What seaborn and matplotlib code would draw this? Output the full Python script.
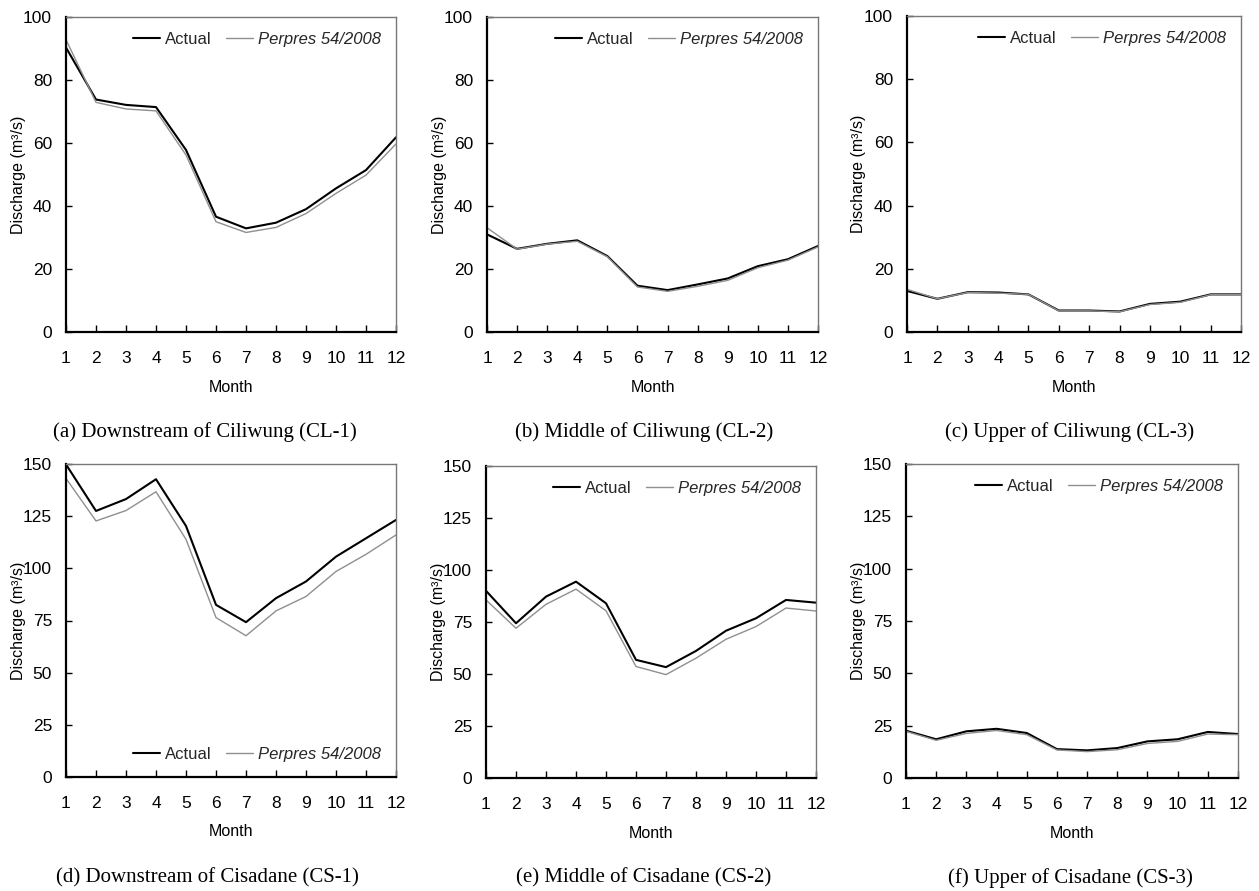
import numpy as np
import pandas as pd
import matplotlib
matplotlib.use("Agg")
import matplotlib.pyplot as plt
import seaborn as sns

months = list(range(1, 12 + 1))

# Ciliwung river stations
cl1_actual = [90.3, 73.8, 72.1, 71.4, 57.8, 36.6, 32.9, 34.7, 39.0, 45.6, 51.4, 61.8]
cl1_perpres = [92.8, 72.9, 70.8, 70.2, 56.2, 35.0, 31.6, 33.2, 37.6, 44.0, 49.8, 59.7]
cl2_actual = [31.0, 26.4, 28.0, 29.1, 24.1, 14.7, 13.3, 15.1, 17.0, 20.9, 23.1, 27.3]
cl2_perpres = [33.1, 26.3, 27.9, 28.8, 23.9, 14.3, 12.9, 14.5, 16.4, 20.4, 22.8, 27.0]
cl3_actual = [13.0, 10.5, 12.6, 12.5, 11.9, 6.8, 6.8, 6.5, 8.9, 9.6, 11.9, 11.9]
cl3_perpres = [13.5, 10.5, 12.5, 12.3, 11.9, 6.7, 6.7, 6.4, 8.7, 9.4, 11.8, 11.8]

# Cisadane river stations
cs1_actual = [149.8, 127.5, 133.2, 142.7, 120.3, 82.5, 74.2, 85.7, 93.7, 105.6, 114.4, 123.2]
cs1_perpres = [143.1, 122.7, 127.7, 136.7, 113.9, 76.4, 67.7, 79.6, 86.5, 98.5, 106.7, 116.0]
cs2_actual = [90.0, 74.4, 87.2, 94.4, 84.0, 56.8, 53.3, 61.1, 70.8, 76.8, 85.6, 84.3]
cs2_perpres = [85.6, 72.0, 83.5, 90.8, 80.4, 53.6, 49.7, 57.6, 66.7, 72.8, 81.7, 80.3]
cs3_actual = [22.6, 18.5, 22.3, 23.5, 21.5, 13.8, 13.2, 14.3, 17.5, 18.5, 22.0, 21.0]
cs3_perpres = [22.3, 18.0, 21.3, 22.7, 20.7, 13.4, 12.6, 13.5, 16.5, 17.5, 21.0, 20.7]

captions = [
    "(a) Downstream of Ciliwung (CL-1)",
    "(b) Middle of Ciliwung (CL-2)",
    "(c) Upper of Ciliwung (CL-3)",
    "(d) Downstream of Cisadane (CS-1)",
    "(e) Middle of Cisadane (CS-2)",
    "(f) Upper of Cisadane (CS-3)",
]
series_names = ["Actual", "Perpres 54/2008"]

panels = [
    (cl1_actual, cl1_perpres, 100, 20, "upper right"),
    (cl2_actual, cl2_perpres, 100, 20, "upper right"),
    (cl3_actual, cl3_perpres, 100, 20, "upper right"),
    (cs1_actual, cs1_perpres, 150, 25, "lower right"),
    (cs2_actual, cs2_perpres, 150, 25, "upper right"),
    (cs3_actual, cs3_perpres, 150, 25, "upper right"),
]

sns.set_theme(style="white")
plt.rcParams["font.family"] = ["Liberation Sans", "DejaVu Sans"]

W, H = 1259, 891
fig = plt.figure(figsize=(W / 100, H / 100), dpi=100)

# axes boxes in pixels: left, right, top, bottom
boxes = [
    (66, 396, 17, 332),
    (487, 818, 17, 332),
    (907, 1241, 16, 332),
    (66, 396, 464, 777),
    (486, 816, 466, 778),
    (906, 1238, 464, 778),
]
caption_pos = [(205, 432), (644, 432), (1070, 432), (207, 878), (644, 878), (1070, 878)]

palette = {"Actual": "black", "Perpres 54/2008": "#8f8f8f"}

for (act, per, ymax, ystep, legloc), (l, r, t, b), cap, (cx, cy) in zip(
        panels, boxes, captions, caption_pos):
    ax = fig.add_axes([l / W, 1 - b / H, (r - l) / W, (b - t) / H])
    df = pd.DataFrame({
        "Month": months * 2,
        "Discharge": act + per,
        "Series": [series_names[0]] * 12 + [series_names[1]] * 12,
    })
    sns.lineplot(data=df, x="Month", y="Discharge", hue="Series",
                 palette=palette, ax=ax, legend=True)
    for line, lw in zip(ax.lines[:2], [1.5, 1.0]):
        line.set_linewidth(lw)

    ax.set_xlim(1, 12)
    ax.set_ylim(0, ymax)
    ax.set_xticks(months)
    ax.set_yticks(np.arange(0, ymax + 1, ystep))
    ax.tick_params(axis="x", direction="in", length=5, width=1, pad=14,
                   labelsize=12.5, colors="black", bottom=True)
    ax.tick_params(axis="y", direction="in", length=4, width=1, pad=10,
                   labelsize=12.5, colors="black", left=True)

    for side in ["left", "bottom"]:
        ax.spines[side].set_color("black")
        ax.spines[side].set_linewidth(1.6)
    for side in ["top", "right"]:
        ax.spines[side].set_color("#777777")
        ax.spines[side].set_linewidth(1.0)

    # axis titles placed a fixed pixel distance from each frame
    ax.set_xlabel("Month", fontsize=11.5, color="black")
    ax.xaxis.set_label_coords(0.5, -55 / (b - t))
    ax.xaxis.label.set_va("center")
    ax.set_ylabel("Discharge (m³/s)", fontsize=11.5, color="black")
    ax.yaxis.set_label_coords(-48 / (r - l), 0.5)
    ax.yaxis.label.set_va("center")

    leg = ax.legend(loc=legloc, ncol=2, frameon=False, fontsize=12,
                    handlelength=1.6, handletextpad=0.3, columnspacing=0.9,
                    borderaxespad=0.5)
    leg.get_texts()[1].set_style("italic")
    for h, lw in zip(leg.get_lines(), [1.5, 1.0]):
        h.set_linewidth(lw)

    fig.text(cx / W, 1 - cy / H, cap, ha="center", va="center",
             fontsize=15, family=["Liberation Serif", "DejaVu Serif"],
             color="black")

fig.savefig("out.png", dpi=100, facecolor="white")
